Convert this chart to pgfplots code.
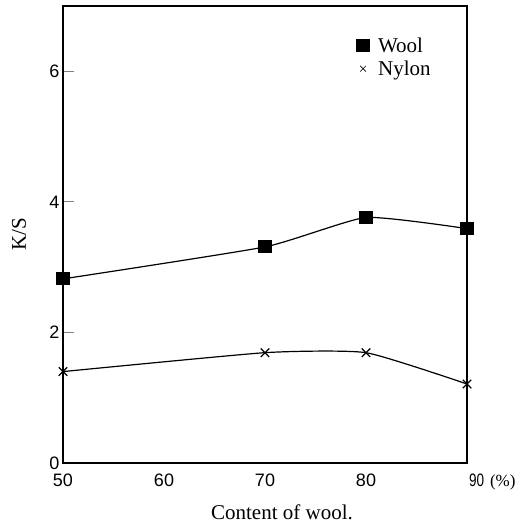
\documentclass[border=0pt]{standalone}
\usepackage{fontspec}
\setmainfont{Liberation Serif}
\setsansfont{Liberation Sans}
\usepackage{graphicx}
\usepackage{pgfplots}
\pgfplotsset{compat=1.18}

\pgfplotstableread{
x y
50 2.82
70 3.31
80 3.76
90 3.59
}\wool
\pgfplotstableread{
x y
50 1.40
70 1.69
80 1.69
90 1.21
}\nylon

\begin{document}
\begin{tikzpicture}
\begin{axis}[
  scale only axis, width=404pt, height=457pt,
  xmin=50, xmax=90, ymin=0, ymax=7,
  clip=false,
  axis line style={line width=1.2pt},
  xtick={50,60,70,80,90},
  xticklabels={50,60,70,80,{\makebox[0pt][l]{\hspace{2pt}\scalebox{0.75}[1]{90}\,\,{\rmfamily\fontsize{17}{17}\selectfont(\%)}}}},
  ytick={0,2,4,6},
  tick align=inside, ytick pos=left, xtick pos=bottom,
  major tick length=11pt,
  major x tick style={draw=none},
  major y tick style={line width=1pt},
  /pgf/number format/assume math mode=true,
  tick label style={font=\fontsize{18}{18}\selectfont\sffamily},
  x tick label style={yshift=-7pt},
  xlabel={Content of wool.},
  ylabel={K/S},
  label style={font=\fontsize{21}{21}\selectfont},
  xlabel style={at={(axis description cs:0.542,-0.107)}, anchor=center},
  ylabel style={at={(axis description cs:-0.109,0.5)}, anchor=center},
  legend style={draw=none, fill=none, font=\fontsize{21}{21}\selectfont,
    at={(axis description cs:0.72,0.94)}, anchor=north west,
    legend cell align=left, row sep=3pt},
  every axis plot/.append style={line width=1.2pt},
]
\addlegendimage{only marks, mark=square*, mark size=6pt}
\addlegendentry{\hspace{7pt}Wool}
\addlegendimage{only marks, mark=x, mark size=4pt, mark options={line width=0.6pt}}
\addlegendentry{\hspace{7pt}Nylon}
\addplot[black, smooth, tension=0.3, mark=square*, mark size=6pt, forget plot] table[x=x,y=y] {\wool};
\addplot[black, smooth, tension=0.3, mark=x, mark size=6pt, mark options={line width=1.2pt}, forget plot] table[x=x,y=y] {\nylon};
\coordinate (SW) at (rel axis cs:0,0);
\coordinate (NE) at (rel axis cs:1,1);
\end{axis}
\pgfresetboundingbox
\path[use as bounding box] ([shift={(-63pt,-64pt)}]SW) rectangle ([shift={(49pt,6pt)}]NE);
\end{tikzpicture}
\end{document}
